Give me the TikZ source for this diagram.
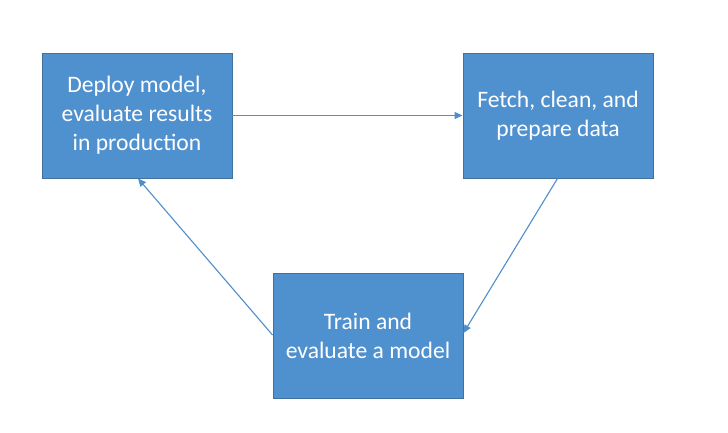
\documentclass[tikz,border=0pt]{standalone}
\usepackage{fontspec}
\setmainfont{Carlito}
\usetikzlibrary{arrows.meta}
\definecolor{boxfill}{HTML}{4F90CE}
\definecolor{boxline}{HTML}{41719C}
\definecolor{linkcol}{HTML}{4F8DCB}
\begin{document}
\begin{tikzpicture}[x=1pt,y=-1pt,
  stage/.style={draw=boxline,line width=0.9pt,fill=boxfill,minimum width=190pt,minimum height=125pt,
    text=white,align=center,font=\fontsize{23.6}{28.8}\selectfont,inner sep=0pt},
  link/.style={draw=linkcol,line width=1.1pt,-{Triangle[length=8pt,width=7pt]}}]
\useasboundingbox (0,0) rectangle (728,433);
\node[stage] (deploy) at (137,115.5) {Deploy model,\\evaluate results\\in production};
\node[stage] (fetch) at (558,115.5) {Fetch, clean, and\\prepare data};
\node[stage] (train) at (368,335.5) {Train and\\evaluate a model};
\draw[link] (deploy.east |- 0,115.5) -- (fetch.west |- 0,115.5);
\draw[link] ([xshift=-0.5pt]fetch.south) -- (train.east |- 0,333);
\draw[link] (train.west |- 0,335) -- (deploy.south -| 138,0);
\end{tikzpicture}
\end{document}
